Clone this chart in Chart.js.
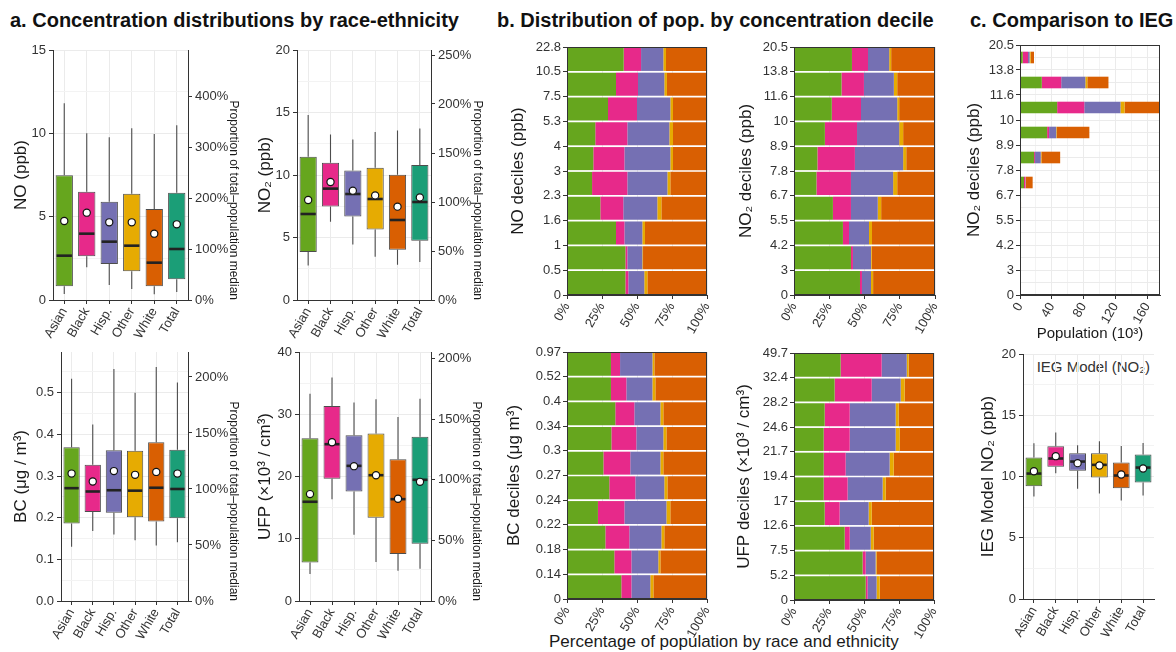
<!DOCTYPE html>
<html>
<head>
<meta charset="utf-8">
<script src="https://cdn.jsdelivr.net/npm/chart.js@4.4.1/dist/chart.umd.min.js"></script>
<style>
  body { margin: 0; background: #fff; width: 1176px; height: 652px; overflow: hidden; position: relative;
         font-family: 'Liberation Sans', Arial, Helvetica, sans-serif; }
  canvas { position: absolute; }
  .ttl { position: absolute; font-weight: bold; font-size: 20px; line-height: 24px; color: #111; white-space: nowrap; }
  .txt { position: absolute; white-space: nowrap; color: #1a1a1a; }
</style>
</head>
<body>
<div class="ttl" style="left:10px;top:8px">a. Concentration distributions by race-ethnicity</div>
<div class="ttl" style="left:497px;top:8px">b. Distribution of pop. by concentration decile</div>
<div class="ttl" style="left:970px;top:8px">c. Comparison to IEG</div>
<div class="txt" style="left:549px;top:632px;font-size:17px;line-height:20px">Percentage of population by race and ethnicity</div>
<div class="txt" style="right:26px;top:358px;font-size:15px;line-height:18px;color:#333">IEG Model (NO₂)</div>

<script>
// categories
var races = ['Asian', 'Black', 'Hisp.', 'Other', 'White', 'Total'];
var raceColors = ['#66a61e', '#e7298a', '#7570b3', '#e6ab02', '#d95f02', '#1b9e77'];

// a. box plots: whisker low, q1, median, q3, whisker high, mean
var noLow  = [0.36, 1.96, 0.90, 0.66, 0.34, 0.48];
var noQ1   = [0.82, 2.62, 2.16, 1.72, 0.82, 1.24];
var noMed  = [2.66, 3.98, 3.50, 3.26, 2.24, 3.06];
var noQ3   = [7.48, 6.50, 5.90, 6.38, 5.46, 6.44];
var noHigh = [11.8, 10.0, 9.76, 10.3, 9.96, 10.48];
var noMean = [4.74, 5.24, 4.66, 4.66, 3.98, 4.54];

var no2Low  = [2.77, 6.27, 4.45, 3.47, 2.83, 3.04];
var no2Q1   = [3.84, 7.49, 6.69, 5.65, 4.03, 4.75];
var no2Med  = [6.88, 8.91, 8.48, 8.08, 6.40, 7.84];
var no2Q3   = [11.47, 10.99, 10.37, 10.59, 10.03, 10.80];
var no2High = [14.8, 13.25, 12.85, 13.44, 13.57, 13.73];
var no2Mean = [8.0, 9.44, 8.75, 8.37, 7.47, 8.21];

var bcLow  = [0.130, 0.168, 0.160, 0.146, 0.133, 0.141];
var bcQ1   = [0.186, 0.214, 0.212, 0.201, 0.191, 0.199];
var bcMed  = [0.271, 0.263, 0.266, 0.265, 0.272, 0.269];
var bcQ3   = [0.369, 0.327, 0.362, 0.361, 0.381, 0.363];
var bcHigh = [0.534, 0.424, 0.557, 0.500, 0.562, 0.525];
var bcMean = [0.306, 0.287, 0.312, 0.303, 0.310, 0.306];

var ufpLow  = [4.33, 16.36, 10.64, 6.26, 4.87, 5.19];
var ufpQ1   = [6.2, 19.63, 17.59, 13.37, 7.54, 9.2];
var ufpMed  = [15.94, 25.19, 21.71, 20.21, 16.36, 19.47];
var ufpQ3   = [26.15, 31.34, 26.63, 26.9, 22.78, 26.4];
var ufpHigh = [33.3, 35.9, 31.87, 32.4, 29.57, 32.5];
var ufpMean = [17.17, 25.5, 21.66, 20.21, 16.42, 19.14];

var iegLow  = [8.37, 10.27, 8.99, 8.61, 8.04, 8.45];
var iegQ1   = [9.21, 10.79, 10.46, 9.92, 9.05, 9.51];
var iegMed  = [10.24, 11.47, 11.22, 10.95, 10.08, 10.73];
var iegQ3   = [11.55, 12.47, 11.9, 11.9, 11.14, 11.79];
var iegHigh = [12.72, 13.59, 12.55, 12.88, 12.5, 12.74];
var iegMean = [10.43, 11.66, 11.09, 10.9, 10.16, 10.65];

// b. decile edges (tick labels) and shares (%) by race, lowest decile first
var noDeciles  = ['0', '0.5', '1', '1.6', '2.3', '3', '4', '5.3', '7.5', '10.5', '22.8'];
var no2Deciles = ['0', '3', '4.2', '5.5', '6.7', '7.8', '8.9', '10', '11.6', '13.8', '20.5'];
var bcDeciles  = ['0', '0.14', '0.18', '0.22', '0.24', '0.27', '0.3', '0.34', '0.4', '0.52', '0.97'];
var ufpDeciles = ['0', '5.2', '7.5', '12.6', '17', '19.4', '21.7', '24.6', '28.2', '32.4', '49.7'];

var noAsian = [41.7, 41.7, 35.0, 23.8, 17.9, 18.8, 20.2, 29.3, 35.0, 40.5];
var noBlack = [2.1, 1.4, 6.0, 16.4, 25.2, 22.2, 22.9, 20.7, 15.7, 12.4];
var noHisp  = [11.4, 10.7, 12.8, 24.3, 28.6, 32.8, 30.0, 23.8, 18.8, 15.9];
var noOther = [2.2, 0.5, 1.9, 2.9, 2.1, 1.9, 2.6, 1.9, 1.9, 1.9];
var noWhite = [42.6, 45.7, 44.3, 32.6, 26.2, 24.3, 24.3, 24.3, 28.6, 29.3];

var no2Asian = [46.8, 40.4, 34.7, 27.6, 15.9, 16.6, 21.9, 26.8, 33.7, 41.1];
var no2Black = [1.4, 1.4, 4.3, 12.8, 24.5, 26.6, 22.8, 20.7, 15.9, 11.4];
var no2Hisp  = [6.4, 12.8, 14.2, 19.0, 29.9, 34.2, 29.9, 25.7, 21.2, 15.0];
var no2Other = [1.5, 0.5, 2.1, 2.4, 2.9, 2.2, 2.8, 1.4, 2.4, 1.4];
var no2White = [43.9, 44.9, 44.7, 38.2, 26.8, 20.4, 22.6, 25.4, 26.8, 31.1];

var bcAsian = [38.8, 33.8, 27.4, 22.1, 30.2, 26.0, 31.7, 34.5, 31.4, 31.4];
var bcBlack = [7.2, 12.2, 17.1, 18.9, 18.6, 19.2, 17.8, 13.6, 11.0, 6.5];
var bcHisp  = [13.5, 19.2, 22.9, 30.0, 20.7, 21.5, 19.3, 18.6, 18.6, 23.1];
var bcOther = [2.2, 1.5, 2.1, 2.8, 2.2, 2.1, 2.2, 2.1, 2.1, 1.4];
var bcWhite = [38.3, 33.3, 30.5, 26.2, 28.3, 31.2, 29.0, 31.2, 36.9, 37.6];

var ufpAsian = [51.2, 49.0, 36.2, 21.9, 21.2, 21.2, 21.2, 21.9, 29.0, 33.3];
var ufpBlack = [1.4, 2.2, 3.6, 10.7, 17.1, 15.7, 18.6, 17.9, 26.5, 29.3];
var ufpHisp  = [6.4, 7.1, 15.0, 20.7, 25.0, 31.4, 32.8, 32.8, 20.7, 17.9];
var ufpOther = [2.2, 0.7, 2.1, 2.2, 2.2, 2.9, 2.9, 2.2, 2.8, 1.4];
var ufpWhite = [38.8, 41.0, 43.1, 44.5, 34.5, 28.8, 24.5, 25.2, 21.0, 18.1];

// c. population (10^3) by NO2 decile
var popAsian = [0, 0, 0, 0, 5.0, 17.7, 34.1, 46.7, 27.4, 3.4];
var popBlack = [0, 0, 0, 0, 1.7, 1.2, 2.5, 34.1, 24.4, 6.7];
var popHisp  = [0, 0, 0, 0, 0.4, 7.2, 8.9, 45.5, 30.3, 2.0];
var popOther = [0, 0, 0, 0, 0.2, 0.8, 0.8, 5.1, 2.5, 1.3];
var popWhite = [0, 0, 0, 1.3, 8.6, 23.6, 40.9, 44.0, 26.6, 4.2];

Chart.defaults.font.family = "'Liberation Sans', Arial, Helvetica, sans-serif";
Chart.defaults.font.size = 13;
Chart.defaults.color = '#333';
Chart.defaults.animation = false;
Chart.defaults.plugins.legend.display = false;
Chart.defaults.plugins.tooltip.enabled = false;

function makeCanvas(g) {
  var cv = document.createElement('canvas');
  cv.width = g.w;
  cv.height = g.h;
  cv.style.left = g.l + 'px';
  cv.style.top = g.t + 'px';
  cv.style.width = g.w + 'px';
  cv.style.height = g.h + 'px';
  document.body.appendChild(cv);
  return cv;
}

function sizeTo(n) {
  return function (s) {
    if (s.isHorizontal()) s.height = n; else s.width = n;
    s.paddingLeft = s.paddingRight = s.paddingTop = s.paddingBottom = 0;
  };
}

// fixed tick positions: every step from 0 up to the axis max
function stepTicks(step) {
  return function (s) {
    var t = [];
    for (var v = 0; v <= s.max + 1e-9; v += step) t.push({ value: Math.round(v * 1e6) / 1e6 });
    s.ticks = t;
  };
}

function isMajor(v, step) {
  return Math.abs(v / step - Math.round(v / step)) < 1e-6;
}

var gridLight = '#ebebeb';
var gridMinor = '#f3f3f3';
var axisCol = '#333';
var noInk = 'rgba(0,0,0,0)';

function majorColor(step, on, off) {
  return function (c) {
    if (!c.tick) return on;
    return isMajor(c.tick.value, step) ? on : off;
  };
}

function frame() {
  return {
    id: 'frame',
    afterDraw: function (chart) {
      var a = chart.chartArea, ctx = chart.ctx;
      ctx.save();
      ctx.strokeStyle = axisCol;
      ctx.lineWidth = 1;
      ctx.strokeRect(a.left + 0.5, a.top + 0.5, a.right - a.left - 1, a.bottom - a.top - 1);
      ctx.restore();
    }
  };
}

function boxMarks(st) {
  return {
    id: 'boxMarks',
    afterDatasetDraw: function (chart, args) {
      if (args.index !== 0) return;
      var ctx = chart.ctx, y = chart.scales.y;
      args.meta.data.forEach(function (bar, i) {
        var x = bar.x, hw = bar.width / 2;
        ctx.save();
        ctx.strokeStyle = '#4d4d4d';
        ctx.lineWidth = 1.1;
        ctx.beginPath();
        ctx.moveTo(x, y.getPixelForValue(st.high[i]));
        ctx.lineTo(x, y.getPixelForValue(st.q3[i]));
        ctx.moveTo(x, y.getPixelForValue(st.q1[i]));
        ctx.lineTo(x, y.getPixelForValue(st.low[i]));
        ctx.stroke();
        var ym = y.getPixelForValue(st.med[i]);
        ctx.strokeStyle = '#222';
        ctx.lineWidth = 2.6;
        ctx.beginPath();
        ctx.moveTo(x - hw + 1, ym);
        ctx.lineTo(x + hw - 1, ym);
        ctx.stroke();
        ctx.restore();
      });
    }
  };
}

// g: canvas box and plot rect, o: axis settings
function boxPanel(g, st, o) {
  var cv = makeCanvas(g);
  var total = st.med[5];
  var scales = {
    x: {
      type: 'category', labels: races, offset: true,
      grid: { offset: false, color: gridLight, tickColor: axisCol, tickLength: 4 },
      border: { color: axisCol },
      ticks: { minRotation: 60, maxRotation: 60, autoSkip: false, padding: 1 },
      afterFit: sizeTo(g.t + g.h - g.pb)
    },
    y: {
      position: 'left', min: 0, max: o.yMax,
      afterBuildTicks: stepTicks(o.minor),
      ticks: {
        padding: 3,
        callback: function (v) { return isMajor(v, o.major) ? o.fmt(v) : ''; }
      },
      grid: {
        tickLength: 4,
        color: majorColor(o.major, gridLight, gridMinor),
        tickColor: majorColor(o.major, axisCol, noInk)
      },
      border: { color: axisCol },
      title: { display: true, text: o.title, font: { size: 17 }, color: '#1a1a1a', padding: { top: o.tpad, bottom: 0 } },
      afterFit: sizeTo(g.pl - g.l)
    }
  };
  var padRight = 0;
  if (o.rStep) {
    scales.y2 = {
      type: 'linear', position: 'right', min: 0, max: o.yMax / total * 100,
      afterBuildTicks: stepTicks(o.rStep),
      ticks: { padding: 3, callback: function (v) { return v + '%'; } },
      grid: { drawOnChartArea: false, tickLength: 4, tickColor: axisCol },
      border: { color: axisCol },
      title: {
        display: true, text: 'Proportion of total–population median', align: 'start',
        font: { size: 12 }, color: '#1a1a1a', padding: { top: o.rpad, bottom: 0 }
      },
      afterFit: sizeTo(g.l + g.w - g.pr)
    };
  } else {
    padRight = g.l + g.w - g.pr;
  }
  return new Chart(cv, {
    type: 'bar',
    data: {
      labels: races,
      datasets: [{
        type: 'bar',
        data: st.q1.map(function (v, i) { return [v, st.q3[i]]; }),
        backgroundColor: raceColors,
        borderColor: '#4d4d4d',
        borderWidth: 1,
        borderSkipped: false,
        barPercentage: 0.77,
        categoryPercentage: 1,
        order: 2
      }, {
        type: 'line',
        data: st.mean,
        showLine: false,
        pointRadius: 3.6,
        pointBackgroundColor: '#fff',
        pointBorderColor: '#111',
        pointBorderWidth: 1.2,
        order: 1
      }]
    },
    options: {
      responsive: false, devicePixelRatio: 1, events: [],
      layout: { autoPadding: false, padding: { top: g.pt - g.t, left: 0, right: padRight, bottom: 0 } },
      scales: scales
    },
    plugins: [boxMarks(st)]
  });
}

function stackPanel(g, edges, series, o) {
  var cv = makeCanvas(g);
  var datasets = series.map(function (vals, k) {
    return {
      data: vals.map(function (v, i) { return { x: v, y: i + 0.5 }; }),
      backgroundColor: raceColors[k],
      borderWidth: 0,
      barPercentage: 1,
      categoryPercentage: 0.93,
      stack: 's'
    };
  });
  var xScale = {
    type: 'linear', stacked: true, min: 0, max: o.xMax,
    afterBuildTicks: stepTicks(o.xMinor),
    ticks: {
      minRotation: 60, maxRotation: 60, padding: 1, autoSkip: false,
      callback: function (v) { return isMajor(v, o.xMajor) ? o.xFmt(v) : ''; }
    },
    grid: {
      tickLength: 4,
      color: majorColor(o.xMajor, gridLight, gridMinor),
      tickColor: majorColor(o.xMajor, axisCol, noInk)
    },
    border: { color: axisCol },
    afterFit: sizeTo(g.t + g.h - g.pb)
  };
  if (o.xTitle) {
    xScale.title = { display: true, text: o.xTitle, font: { size: 15 }, color: '#1a1a1a', padding: { top: 0, bottom: o.xpad } };
  }
  return new Chart(cv, {
    type: 'bar',
    data: { datasets: datasets },
    options: {
      indexAxis: 'y',
      responsive: false, devicePixelRatio: 1, events: [],
      layout: { autoPadding: false, padding: { top: g.pt - g.t, left: 0, right: g.l + g.w - g.pr, bottom: 0 } },
      scales: {
        x: xScale,
        y: {
          type: 'linear', stacked: true, min: 0, max: 10, offset: false,
          afterBuildTicks: stepTicks(o.yStep),
          ticks: {
            padding: 2, autoSkip: false,
            callback: function (v) { return Number.isInteger(v) ? edges[v] : ''; }
          },
          grid: {
            offset: false, drawOnChartArea: o.yGrid, tickLength: 4, color: gridLight,
            tickColor: majorColor(1, axisCol, noInk)
          },
          border: { color: axisCol },
          title: { display: true, text: o.title, font: { size: 17 }, color: '#1a1a1a', padding: { top: o.tpad, bottom: 0 } },
          afterFit: sizeTo(g.pl - g.l)
        }
      }
    },
    plugins: [frame()]
  });
}

var int = function (v) { return String(v); };
var pct = function (v) { return v + '%'; };

boxPanel({ l: 0, t: 40, w: 250, h: 330, pl: 53, pt: 50, pr: 188, pb: 300 },
  { low: noLow, q1: noQ1, med: noMed, q3: noQ3, high: noHigh, mean: noMean },
  { yMax: 15, minor: 2.5, major: 5, fmt: int, title: 'NO (ppb)', tpad: 11, rStep: 100, rpad: 9 });

boxPanel({ l: 240, t: 40, w: 260, h: 330, pl: 297, pt: 50, pr: 431, pb: 300 },
  { low: no2Low, q1: no2Q1, med: no2Med, q3: no2Q3, high: no2High, mean: no2Mean },
  { yMax: 20, minor: 2.5, major: 5, fmt: int, title: 'NO₂ (ppb)', tpad: 15, rStep: 50, rpad: 15 });

boxPanel({ l: 0, t: 340, w: 250, h: 312, pl: 61, pt: 352, pr: 188, pb: 601 },
  { low: bcLow, q1: bcQ1, med: bcMed, q3: bcQ3, high: bcHigh, mean: bcMean },
  { yMax: 0.598, minor: 0.05, major: 0.1, fmt: function (v) { return v.toFixed(1); },
    title: 'BC (μg / m³)', tpad: 11, rStep: 50, rpad: 9 });

boxPanel({ l: 240, t: 340, w: 260, h: 312, pl: 299, pt: 352, pr: 431, pb: 601 },
  { low: ufpLow, q1: ufpQ1, med: ufpMed, q3: ufpQ3, high: ufpHigh, mean: ufpMean },
  { yMax: 40, minor: 5, major: 10, fmt: int, title: 'UFP (×10³ / cm³)', tpad: 15, rStep: 50, rpad: 16 });

boxPanel({ l: 960, t: 345, w: 216, h: 307, pl: 1023, pt: 354, pr: 1154, pb: 599 },
  { low: iegLow, q1: iegQ1, med: iegMed, q3: iegQ3, high: iegHigh, mean: iegMean },
  { yMax: 20, minor: 2.5, major: 5, fmt: int, title: 'IEG Model NO₂ (ppb)', tpad: 18 });

var shareAxis = { xMax: 100, xMinor: 25, xMajor: 25, xFmt: pct, yStep: 1, yGrid: false };

stackPanel({ l: 500, t: 37, w: 230, h: 313, pl: 567, pt: 47, pr: 707, pb: 295 }, noDeciles,
  [noAsian, noBlack, noHisp, noOther, noWhite],
  Object.assign({}, shareAxis, { title: 'NO deciles (ppb)', tpad: 8 }));

stackPanel({ l: 730, t: 37, w: 230, h: 313, pl: 794, pt: 47, pr: 935, pb: 295 }, no2Deciles,
  [no2Asian, no2Black, no2Hisp, no2Other, no2White],
  Object.assign({}, shareAxis, { title: 'NO₂ deciles (ppb)', tpad: 6 }));

stackPanel({ l: 500, t: 340, w: 230, h: 312, pl: 567, pt: 352, pr: 707, pb: 599 }, bcDeciles,
  [bcAsian, bcBlack, bcHisp, bcOther, bcWhite],
  Object.assign({}, shareAxis, { title: 'BC deciles (μg m³)', tpad: 4 }));

stackPanel({ l: 730, t: 340, w: 230, h: 312, pl: 794, pt: 353, pr: 934, pb: 600 }, ufpDeciles,
  [ufpAsian, ufpBlack, ufpHisp, ufpOther, ufpWhite],
  Object.assign({}, shareAxis, { title: 'UFP deciles (×10³ / cm³)', tpad: 4 }));

stackPanel({ l: 960, t: 35, w: 216, h: 310, pl: 1020, pt: 45, pr: 1160, pb: 295 }, no2Deciles,
  [popAsian, popBlack, popHisp, popOther, popWhite],
  { xMax: 176, xMinor: 20, xMajor: 40, xFmt: int, yStep: 0.5, yGrid: true,
    xTitle: 'Population (10³)', xpad: 2, title: 'NO₂ deciles (ppb)', tpad: 4 });
</script>
</body>
</html>
